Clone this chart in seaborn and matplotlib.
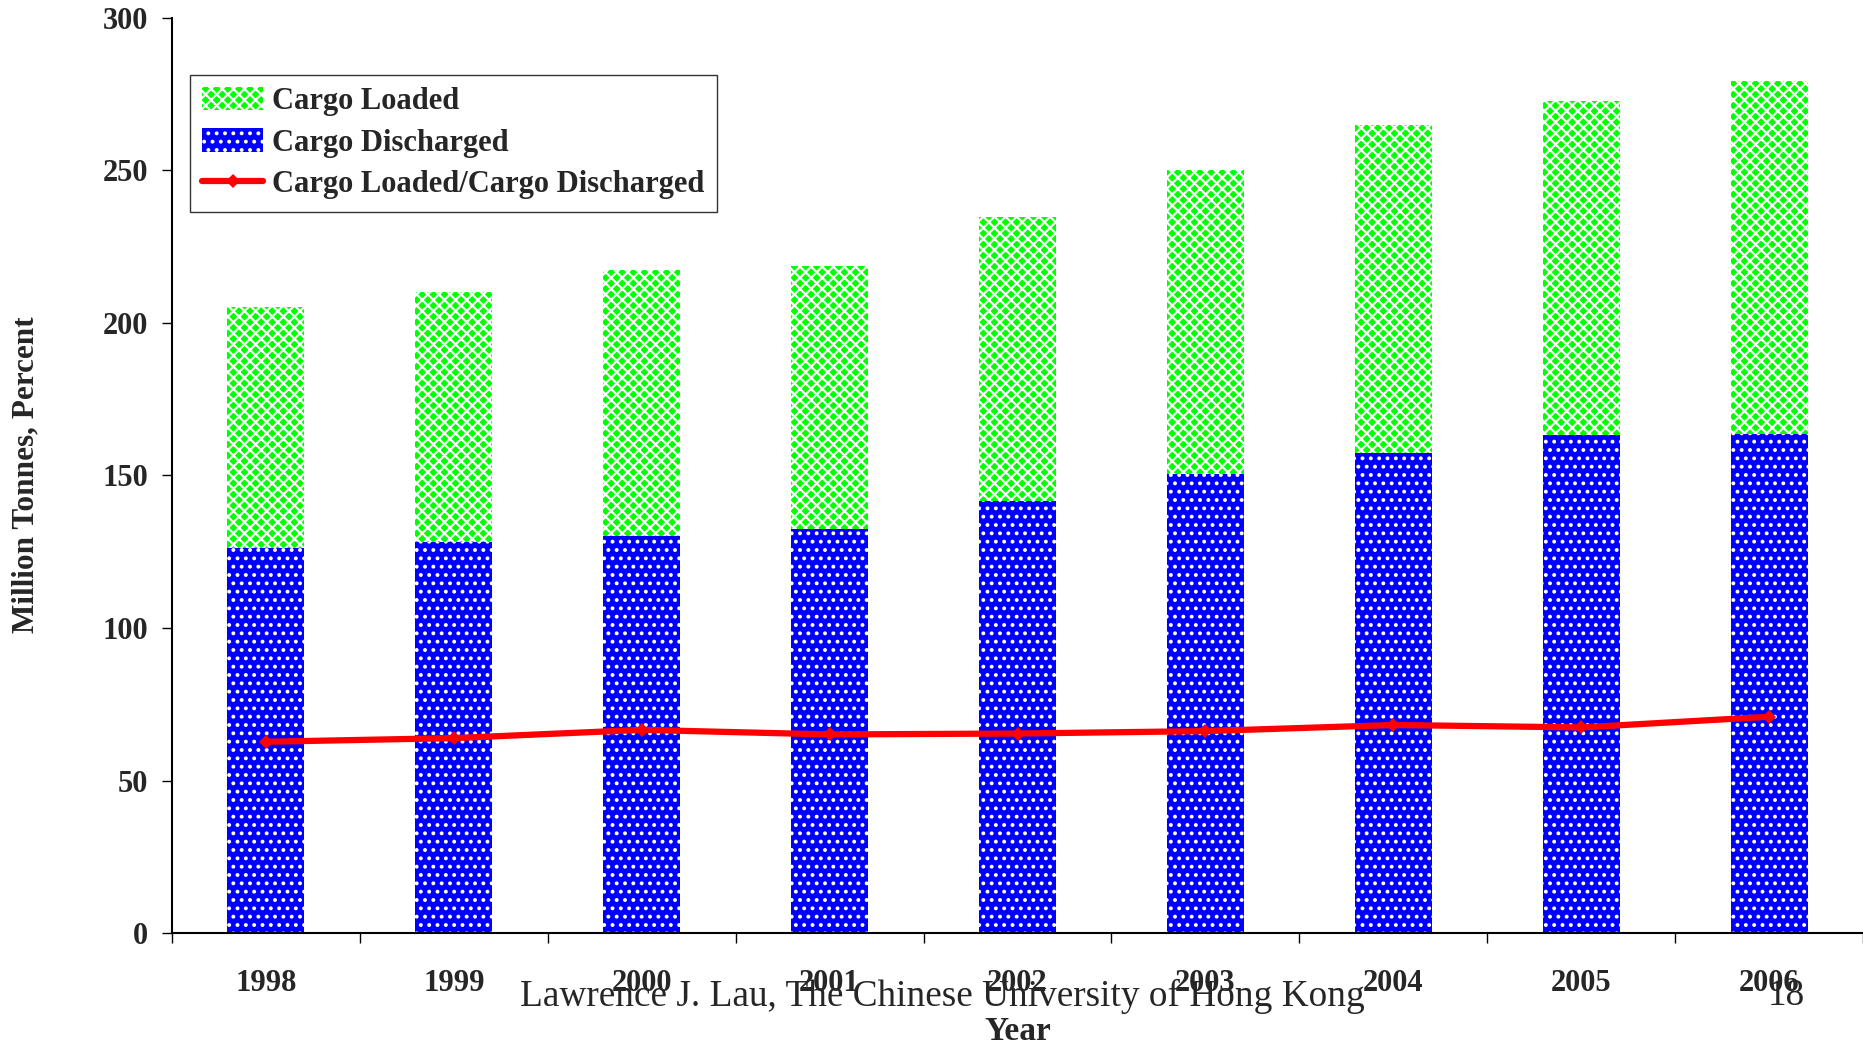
import numpy as np
import pandas as pd
import matplotlib
matplotlib.use("Agg")
import matplotlib.pyplot as plt
import seaborn as sns
from matplotlib.patches import Patch
from matplotlib.lines import Line2D

years = ['1998', '1999', '2000', '2001', '2002', '2003', '2004', '2005', '2006']
cargo_discharged = [126.2, 128.2, 130.1, 132.5, 141.8, 150.4, 157.4, 163.2, 163.6]
cargo_loaded = [79.1, 81.8, 87.3, 86.1, 93.1, 99.7, 107.5, 109.5, 115.7]
ratio_pct = [62.7, 63.9, 66.6, 65.1, 65.4, 66.2, 68.2, 67.4, 70.9]
y_ticks = [0, 50, 100, 150, 200, 250, 300]

df = pd.DataFrame({'Year': years, 'Discharged': cargo_discharged,
                   'Loaded': cargo_loaded, 'Ratio': ratio_pct})

sns.set_style('white')
plt.rcParams['font.family'] = ['Liberation Serif', 'DejaVu Serif']
plt.rcParams['hatch.linewidth'] = 1.6

fig = plt.figure(figsize=(18.63, 10.43), dpi=100)
ax = fig.add_axes([172 / 1863, 1 - 933 / 1043, 1 - 172 / 1863, (933 - 18) / 1043])

sns.barplot(data=df, x='Year', y='Discharged', ax=ax, color='#0000ff', width=0.41,
            saturation=1, hatch='..', edgecolor='white', linewidth=0)
sns.barplot(data=df, x='Year', y='Loaded', ax=ax, color='#00ff00', width=0.41,
            saturation=1, bottom=df['Discharged'], hatch='xxx', edgecolor='white',
            linewidth=0)
sns.lineplot(data=df, x='Year', y='Ratio', ax=ax, color='#ff0000', linewidth=4.5,
             marker='D', markersize=7, markeredgewidth=0, sort=False)

ax.set_xlim(-0.5, 8.5)
ax.set_ylim(0, 300)
ax.set_yticks(y_ticks)
ax.set_yticklabels([str(t) for t in y_ticks], fontsize=22, fontweight='bold')
ax.set_xticks(range(len(years)))
ax.set_xticklabels(years, fontsize=22, fontweight='bold')
ax.set_xticks(np.arange(-0.5, 9.0, 1.0), minor=True)
ax.tick_params(axis='x', which='major', length=0, pad=26)
ax.tick_params(axis='x', which='minor', length=7, width=1, color='black', direction='out')
ax.tick_params(axis='y', length=7, width=1, color='black', direction='out', pad=10)
ax.tick_params(axis='both', which='both', bottom=True, left=True)

for side in ['top', 'right']:
    ax.spines[side].set_visible(False)
for side in ['left', 'bottom']:
    ax.spines[side].set_color('black')
    ax.spines[side].set_linewidth(1.5)

ax.set_xlabel('')
ax.set_ylabel('')
fig.text(26 / 1863, 1 - 475 / 1043, 'Million Tonnes, Percent', rotation=90,
         fontsize=22.5, fontweight='bold', ha='center', va='center')
fig.text(1018 / 1863, 1 - 1031 / 1043, 'Year', fontsize=24, fontweight='bold',
         ha='center', va='center')
fig.text(942 / 1863, 1 - 996 / 1043, 'Lawrence J. Lau, The Chinese University of Hong Kong',
         fontsize=26.8, ha='center', va='center')
fig.text(1786 / 1863, 1 - 996 / 1043, '18', fontsize=26.8, ha='center', va='center')

handles = [
    Patch(facecolor='#00ff00', hatch='xxx', edgecolor='white', linewidth=0),
    Patch(facecolor='#0000ff', hatch='..', edgecolor='white', linewidth=0),
    Line2D([0], [0], color='#ff0000', linewidth=4.5, marker='D', markersize=7,
           markeredgewidth=0),
]
labels = ['Cargo Loaded', 'Cargo Discharged', 'Cargo Loaded/Cargo Discharged']
leg = ax.legend(handles, labels, loc='upper left', bbox_to_anchor=(0.0106, 0.938),
                borderaxespad=0, frameon=True, fancybox=False, handlelength=2.0,
                handleheight=0.8, handletextpad=0.3, labelspacing=0.4,
                prop={'size': 22, 'weight': 'bold'}, borderpad=0.4)
leg.get_frame().set_edgecolor('black')
leg.get_frame().set_linewidth(1.0)

fig.savefig('out.png', dpi=100)
